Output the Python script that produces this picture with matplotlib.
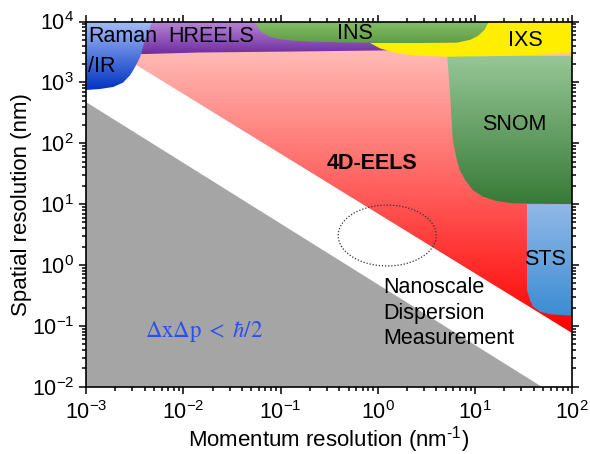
import numpy as np
import matplotlib
matplotlib.use("Agg")
import matplotlib.pyplot as plt
from matplotlib.patches import Polygon
from matplotlib.ticker import LogLocator, LogFormatterMathtext

plt.rcParams['font.family'] = ['Liberation Sans', 'DejaVu Sans']
plt.rcParams['axes.unicode_minus'] = False
plt.rcParams['mathtext.fontset'] = 'stix'

# ---- axis ranges ----
x_lim = [1e-3, 1e2]
y_lim = [1e-2, 1e4]

# ---- region outlines (momentum resolution nm^-1, spatial resolution nm) ----
gray_x = [1e-3, 1e-3, 48.4]
gray_y = [1e-2, 475, 1e-2]

red_x = [1e-3, 1e-3, 1e2, 1e2]
red_y = [6300, 1e4, 1e4, 0.0764]

raman_x = [1e-3, 1e-3, 4.8e-3, 4.05e-3, 3.6e-3, 3.2e-3, 2.85e-3, 2.4e-3, 1.9e-3, 1.4e-3]
raman_y = [750, 1e4, 1e4, 5000, 2600, 1800, 1320, 990, 840, 780]

hreels_x = [2.8e-3, 1.7, 1.7, 0.98, 0.15, 0.015, 3.9e-3, 2.8e-3]
hreels_y = [1e4, 1e4, 3400, 3340, 3220, 3100, 2920, 2920]

ins_x = [0.0547, 0.0586, 0.066, 0.078, 0.099, 0.148, 0.216, 0.41, 1.58, 6.5, 8.9, 10.7, 12.4, 13.3, 13.9]
ins_y = [1e4, 7800, 6500, 5600, 5100, 4800, 4650, 4550, 4400, 4500, 5000, 5800, 7200, 8800, 1e4]

ixs_x = [0.83, 1.05, 1.58, 2.5, 5.2, 16.8, 37, 100, 100, 11, 7.0, 4.4]
ixs_y = [4450, 3630, 3000, 2750, 2640, 2710, 2800, 3000, 1e4, 1e4, 5400, 4600]

snom_x = [5.15, 5.5, 5.9, 6.5, 7.0, 7.9, 9.5, 12.1, 16.8, 24.5, 100, 100]
snom_y = [3000, 750, 113, 53, 36, 25, 17, 13.2, 11.2, 10.3, 10, 3000]

sts_x = [34.2, 34.2, 36.7, 39.4, 46.6, 59, 100, 100]
sts_y = [10, 0.39, 0.266, 0.207, 0.171, 0.155, 0.147, 10]

# dotted ellipse: centre and half-axes in decades
ell_center = (1.25, 3.05)
ell_half_decades = (0.504, 0.50)

fig = plt.figure(figsize=(5.9, 4.54), dpi=100)
ax = fig.add_axes([0.1458, 0.1482, 0.8242, 0.8044])
ax.set_xscale('log')
ax.set_yscale('log')
ax.set_xlim(x_lim)
ax.set_ylim(y_lim)


def yfrac(y):
    return (np.log10(y) - np.log10(y_lim[0])) / (np.log10(y_lim[1]) - np.log10(y_lim[0]))


def grad_region(xs, ys, c_top, c_bot, y_top, y_bot, z):
    poly = Polygon(np.column_stack([xs, ys]), closed=True, transform=ax.transData,
                   facecolor='none', edgecolor='none', zorder=z)
    ax.add_patch(poly)
    n = 256
    t = np.linspace(0, 1, n)[:, None, None]
    top = np.array(c_top, float)[None, None, :] / 255
    bot = np.array(c_bot, float)[None, None, :] / 255
    img = top * (1 - t) + bot * t
    im = ax.imshow(img, extent=[0, 1, yfrac(y_bot), yfrac(y_top)], transform=ax.transAxes,
                   aspect='auto', origin='upper', zorder=z, interpolation='bilinear')
    im.set_clip_path(poly)


ax.fill(gray_x, gray_y, color='#A5A5A5', lw=0, zorder=1)
grad_region(red_x, red_y, (255, 205, 200), (255, 0, 0), 1e4, 0.0764, 2)
grad_region(hreels_x, hreels_y, (185, 135, 215), (110, 45, 160), 1e4, 2920, 3)
grad_region(snom_x, snom_y, (150, 198, 150), (55, 122, 55), 2700, 10, 3)
grad_region(sts_x, sts_y, (145, 185, 232), (60, 140, 210), 10, 0.147, 3)
ax.fill(ixs_x, ixs_y, color='#FFEE00', lw=0, zorder=4)
grad_region(ins_x, ins_y, (136, 192, 104), (94, 156, 70), 1e4, 4400, 5)
grad_region(raman_x, raman_y, (165, 190, 245), (0, 50, 195), 1e4, 750, 6)

tt = np.linspace(0, 2 * np.pi, 300)
ex = 10 ** (np.log10(ell_center[0]) + ell_half_decades[0] * np.cos(tt))
ey = 10 ** (np.log10(ell_center[1]) + ell_half_decades[1] * np.sin(tt))
ax.plot(ex, ey, color='#333333', lw=0.9, ls=(0, (1, 1.5)), zorder=7)

ax.set_xlim(x_lim)
ax.set_ylim(y_lim)

fs = 15.5
tk = dict(transform=ax.transAxes, fontsize=fs, color='black', zorder=10)
ax.text(0.004, 0.958, 'Raman', ha='left', va='center', **tk)
ax.text(0.004, 0.878, '/IR', ha='left', va='center', **tk)
ax.text(0.258, 0.958, 'HREELS', ha='center', va='center', **tk)
ax.text(0.552, 0.968, 'INS', ha='center', va='center', **tk)
ax.text(0.904, 0.949, 'IXS', ha='center', va='center', **tk)
ax.text(0.880, 0.717, 'SNOM', ha='center', va='center', **tk)
ax.text(0.943, 0.347, 'STS', ha='center', va='center', **tk)
ax.text(0.588, 0.6125, '4D-EELS', ha='center', va='center', fontweight='bold', **tk)
ax.text(0.611, 0.2015, 'Nanoscale\nDispersion\nMeasurement', ha='left', va='center',
        linespacing=1.27, **tk)
ax.text(0.2426, 0.150, r'$\Delta\mathrm{x}\Delta\mathrm{p}\;<\;\hbar/2$', ha='center', va='center',
        transform=ax.transAxes, fontsize=16.5, color='#2850F0', zorder=10)

ax.xaxis.set_major_locator(LogLocator(base=10, numticks=10))
ax.yaxis.set_major_locator(LogLocator(base=10, numticks=10))
ax.xaxis.set_minor_locator(LogLocator(base=10, subs=np.arange(2, 10), numticks=20))
ax.yaxis.set_minor_locator(LogLocator(base=10, subs=np.arange(2, 10), numticks=20))
ax.xaxis.set_major_formatter(LogFormatterMathtext())
ax.yaxis.set_major_formatter(LogFormatterMathtext())
ax.tick_params(which='both', direction='out', top=True, right=True, labelsize=15.5, width=1.1)
ax.tick_params(which='major', length=5)
ax.tick_params(which='minor', length=2.6)
ax.tick_params(axis='x', which='major', pad=5)
for s in ax.spines.values():
    s.set_linewidth(1.2)
    s.set_zorder(20)

ax.set_xlabel('Momentum resolution (nm$^{\\mathregular{\u2010}\\mathregular{1}}$)', fontsize=16, labelpad=0.5)
ax.set_ylabel('Spatial resolution (nm)', fontsize=16, labelpad=0)

fig.savefig('out.png', dpi=100)
